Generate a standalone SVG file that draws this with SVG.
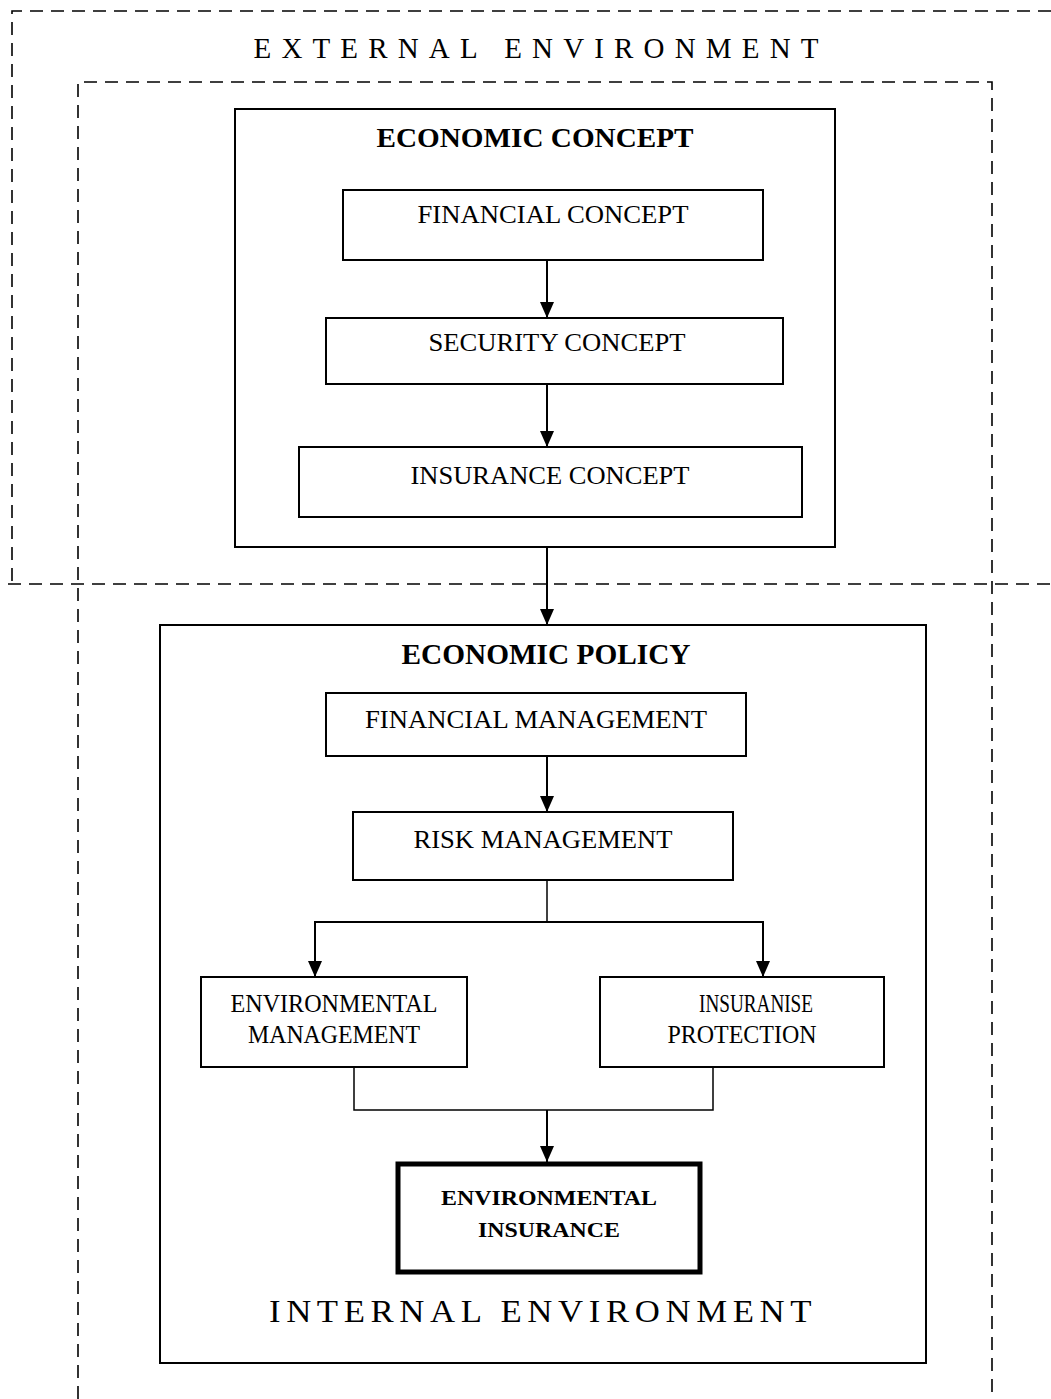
<svg xmlns="http://www.w3.org/2000/svg" width="1051" height="1399" viewBox="0 0 1051 1399">
<style>
.dash{fill:none;stroke:#000;stroke-width:1.6;stroke-dasharray:13 8}
.box{fill:none;stroke:#000;stroke-width:2}
.thick{fill:none;stroke:#000;stroke-width:5}
.con{fill:none;stroke:#000;stroke-width:2}
.line{fill:none;stroke:#000;stroke-width:1.5}
text{font-family:"Liberation Serif","Times New Roman",serif;fill:#000;text-anchor:middle}
.t{font-size:25px}
.b{font-size:28px;font-weight:bold}
.bs{font-size:21px;font-weight:bold}
.env{font-size:29px}
</style>
<defs>
<marker id="arr" markerWidth="16" markerHeight="14" refX="16" refY="7" orient="auto" markerUnits="userSpaceOnUse">
<path d="M0,0 L16,7 L0,14 Z" fill="#000"/>
</marker>
</defs>

<g id="external-environment">
<path class="dash" d="M1051,11 H12 V584"/>
<path class="dash" d="M8,584 H1051"/>
<text class="env" x="536" y="58" textLength="565" lengthAdjust="spacing">EXTERNAL ENVIRONMENT</text>
</g>

<g id="internal-environment">
<path class="dash" d="M78,1399 V82 H992 V1399"/>
</g>

<g id="economic-concept">
<rect class="box" x="235" y="109" width="600" height="438"/>
<text class="b" x="535" y="147" textLength="317" lengthAdjust="spacingAndGlyphs">ECONOMIC CONCEPT</text>
</g>
<g id="financial-concept">
<rect class="box" x="343" y="190" width="420" height="70"/>
<text class="t" x="553" y="223" textLength="271" lengthAdjust="spacingAndGlyphs">FINANCIAL CONCEPT</text>
</g>
<g id="security-concept">
<rect class="box" x="326" y="318" width="457" height="66"/>
<text class="t" x="557" y="351" textLength="257" lengthAdjust="spacingAndGlyphs">SECURITY CONCEPT</text>
</g>
<g id="insurance-concept">
<rect class="box" x="299" y="447" width="503" height="70"/>
<text class="t" x="550" y="484" textLength="279" lengthAdjust="spacingAndGlyphs">INSURANCE CONCEPT</text>
</g>

<g id="economic-policy">
<rect class="box" x="160" y="625" width="766" height="738"/>
<text class="b" x="546" y="664" textLength="289" lengthAdjust="spacingAndGlyphs" style="font-size:29px">ECONOMIC POLICY</text>
<text x="543" y="1322" textLength="548" lengthAdjust="spacingAndGlyphs" style="font-size:31px;letter-spacing:5px">INTERNAL ENVIRONMENT</text>
</g>
<g id="financial-management">
<rect class="box" x="326" y="693" width="420" height="63"/>
<text class="t" x="536" y="728" textLength="342" lengthAdjust="spacingAndGlyphs">FINANCIAL MANAGEMENT</text>
</g>
<g id="risk-management">
<rect class="box" x="353" y="812" width="380" height="68"/>
<text class="t" x="543" y="848" textLength="259" lengthAdjust="spacingAndGlyphs">RISK MANAGEMENT</text>
</g>
<g id="environmental-management">
<rect class="box" x="201" y="977" width="266" height="90"/>
<text class="t" x="334" y="1012" textLength="207" lengthAdjust="spacingAndGlyphs">ENVIRONMENTAL</text>
<text class="t" x="334" y="1043" textLength="172" lengthAdjust="spacingAndGlyphs">MANAGEMENT</text>
</g>
<g id="insuranise-protection">
<rect class="box" x="600" y="977" width="284" height="90"/>
<text class="t" x="756" y="1012" textLength="114" lengthAdjust="spacingAndGlyphs">INSURANISE</text>
<text class="t" x="742" y="1043" textLength="149" lengthAdjust="spacingAndGlyphs">PROTECTION</text>
</g>
<g id="environmental-insurance">
<rect class="thick" x="398" y="1164" width="302" height="108"/>
<text class="bs" x="549" y="1205" textLength="216" lengthAdjust="spacingAndGlyphs">ENVIRONMENTAL</text>
<text class="bs" x="549" y="1237" textLength="142" lengthAdjust="spacingAndGlyphs">INSURANCE</text>
</g>

<g id="connectors">
<path class="con" d="M547,260 V318" marker-end="url(#arr)"/>
<path class="con" d="M547,384 V447" marker-end="url(#arr)"/>
<path class="con" d="M547,547 V625" marker-end="url(#arr)"/>
<path class="con" d="M547,756 V812" marker-end="url(#arr)"/>
<path class="line" d="M547,880 V922"/>
<path class="con" d="M547,922 H315 V977" marker-end="url(#arr)"/>
<path class="con" d="M547,922 H763 V977" marker-end="url(#arr)"/>
<path class="line" d="M354,1067 V1110 H713 V1067"/>
<path class="con" d="M547,1110 V1162" marker-end="url(#arr)"/>
</g>
</svg>
